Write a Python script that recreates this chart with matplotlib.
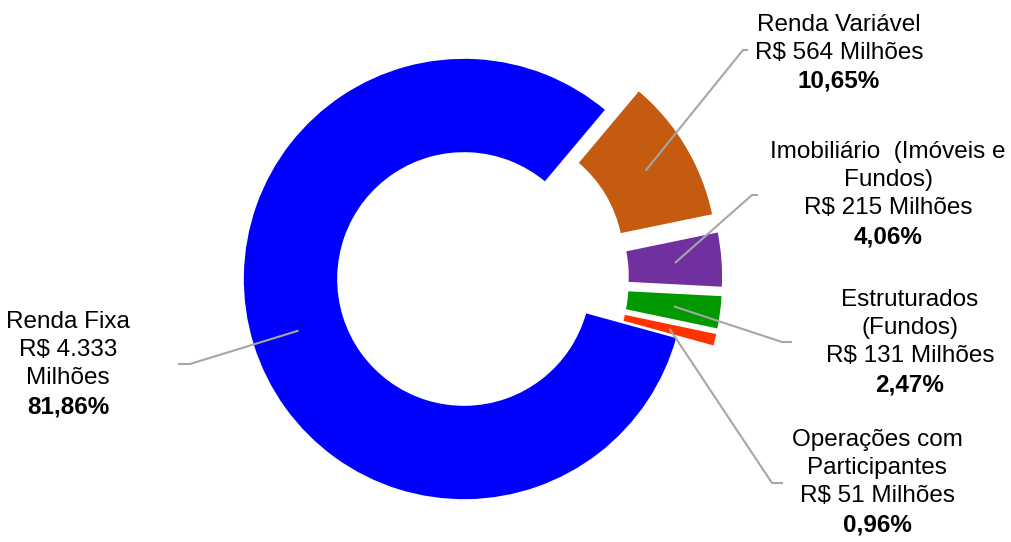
import numpy as np
import matplotlib.pyplot as plt

plt.rcParams['font.family'] = ['Liberation Sans', 'DejaVu Sans']

# --- data (clockwise from the top-right gap) ---------------------------------
categories = ["Renda Variável", "Imobiliário  (Imóveis e\nFundos)", "Estruturados\n(Fundos)",
              "Operações com\nParticipantes", "Renda Fixa"]
values_mi = [564, 215, 131, 51, 4333]
value_labels = ["R$ 564 Milhões", "R$ 215 Milhões", "R$ 131 Milhões",
                "R$ 51 Milhões", "R$ 4.333\nMilhões"]
pct_labels = ["10,65%", "4,06%", "2,47%", "0,96%", "81,86%"]
colors = ["#C55A11", "#7030A0", "#009900", "#FF3300", "#0000FF"]

W, H = 1011, 542
fig = plt.figure(figsize=(W / 100, H / 100), dpi=100)
ax = fig.add_axes([0, 0, 1, 1])

cx, cy = 464, H - 279
R, ring = 221, 95
# explode in pie is absolute data units (pixels here)
explode = [38, 38, 38, 38, 0]
wedges, _ = ax.pie(values_mi, colors=colors, explode=explode, startangle=50,
                   counterclock=False, radius=R, center=(cx, cy),
                   wedgeprops=dict(width=ring, edgecolor="white", linewidth=1.2))
ax.set_xlim(0, W)
ax.set_ylim(0, H)
ax.set_aspect("equal")
ax.axis("off")

# label block positions (x centre, y of first line in pixels from top), leader elbows
label_pos = [(839, 25), (888, 152), (910, 300), (877, 440), (68, 322)]
elbow = [(743, 50, 748, 50), (752, 195, 758, 195), (782, 342, 792, 342),
         (772, 483, 783, 483), (190, 364, 178, 364)]
anchor_r = R - ring / 2
line_h = 28.2
fs = 17.5

for i, w in enumerate(wedges):
    theta = np.deg2rad((w.theta1 + w.theta2) / 2)
    ox, oy = w.center
    ax0 = ox + anchor_r * np.cos(theta)
    ay0 = oy + anchor_r * np.sin(theta)
    ex, ey, hx, hy = elbow[i]
    ax.plot([ax0, ex, hx], [ay0, H - ey, H - hy], color="#A6A6A6", lw=1.5,
            solid_capstyle="butt", zorder=3)

    lines = categories[i].split("\n") + value_labels[i].split("\n")
    x, y0 = label_pos[i]
    for j, t in enumerate(lines):
        ax.text(x, H - (y0 + j * line_h), t, ha="center", va="center",
                fontsize=fs, color="#000000")
    ax.text(x, H - (y0 + len(lines) * line_h), pct_labels[i], ha="center",
            va="center", fontsize=fs, fontweight="bold", color="#000000")

fig.savefig("out.png", dpi=100)
